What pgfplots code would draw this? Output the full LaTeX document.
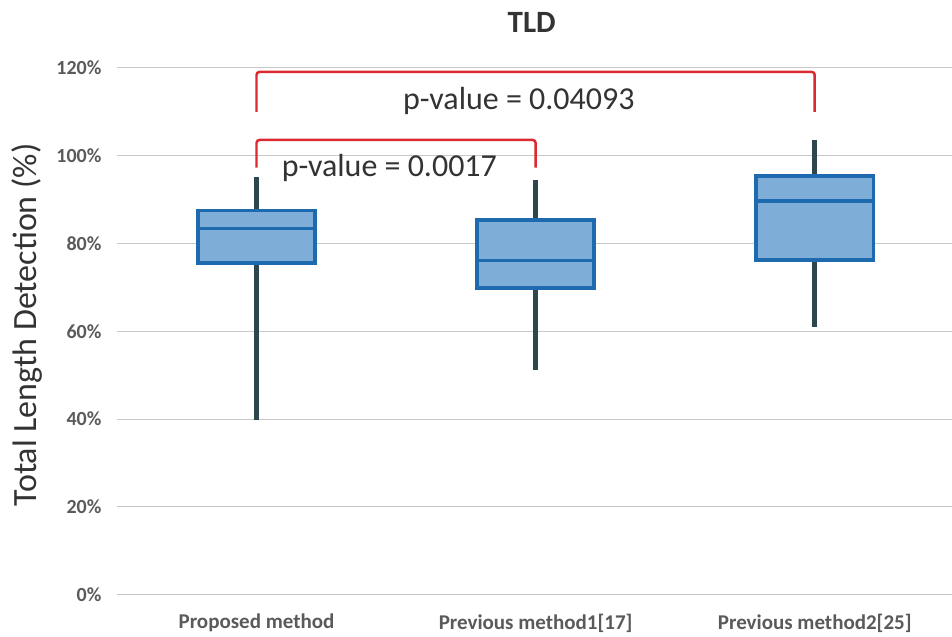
\documentclass[border=0pt]{standalone}
\usepackage{pgfplots}
\pgfplotsset{compat=1.18}
\usepgfplotslibrary{statistics}
\usepackage{fontspec}
\setmainfont{Carlito}
\definecolor{boxedge}{HTML}{1D6AAE}
\definecolor{boxfill}{HTML}{7EAED8}
\definecolor{whisk}{HTML}{2E474C}
\definecolor{brk}{HTML}{DC2A30}
\definecolor{tickgray}{HTML}{5A5A5A}
\definecolor{txt}{HTML}{333333}
\definecolor{gridc}{HTML}{C8C8C8}
\begin{document}
\begin{tikzpicture}[x=1pt,y=1pt]
\path (0,0) rectangle (952,637);
\begin{axis}[
  at={(117pt,42pt)}, anchor=south west,
  scale only axis, width=835pt, height=527pt,
  xmin=-0.5, xmax=2.49, ymin=0, ymax=120,
  axis line style={draw=none}, tick style={draw=none},
  ytick={0,20,...,120},
  yticklabel={\pgfmathprintnumber{\tick}\%},
  /pgf/number format/assume math mode=true,
  yticklabel style={font=\fontsize{20}{20}\selectfont\bfseries, text=tickgray, xshift=-12pt},
  xtick={0,1,2},
  xticklabels={Proposed method, Previous method1[17], Previous method2[25]},
  xticklabel style={font=\fontsize{21}{21}\selectfont\bfseries, text=tickgray, yshift=-16pt},
  ymajorgrids, grid style={gridc, line width=1pt},
  ylabel={Total Length Detection (\%)},
  every axis y label/.style={at={(axis description cs:-0.108,0.512)}, rotate=90, anchor=center},
  ylabel style={font=\fontsize{34}{34}\selectfont, text=txt},
  title={TLD},
  every axis title/.style={at={(axis description cs:0.497,1)}, anchor=center, yshift=46pt},
  title style={font=\fontsize{31}{31}\selectfont\bfseries, text=txt},
  boxplot/draw direction=y,
  boxplot/box extend=0.42,
  boxplot/whisker extend=0,
  boxplot/every box/.style={draw=boxedge, fill=boxfill, line width=3.5pt},
  boxplot/every median/.style={draw=boxedge, line width=3.5pt},
  boxplot/every whisker/.style={draw=whisk, line width=4.5pt},
]
% Box 1: proposed method
\addplot+[mark=none, boxplot prepared={draw position=0,
  lower whisker=39.9, lower quartile=75.6, median=83.4,
  upper quartile=87.5, upper whisker=95.2}] coordinates {};
% Box 2: previous method 1
\addplot+[mark=none, boxplot prepared={draw position=1,
  lower whisker=51.3, lower quartile=69.9, median=76.1,
  upper quartile=85.4, upper whisker=94.5}] coordinates {};
% Box 3: previous method 2
\addplot+[mark=none, boxplot prepared={draw position=2,
  lower whisker=61.0, lower quartile=76.3, median=89.7,
  upper quartile=95.4, upper whisker=103.6}] coordinates {};
% significance brackets
\addplot[brk, line width=2.5pt, rounded corners=3pt, mark=none]
  coordinates {(0,110) (0,119.1) (2,119.1) (2,110)};
\addplot[brk, line width=2.5pt, rounded corners=3pt, mark=none]
  coordinates {(0,97.3) (0,103.6) (1,103.6) (1,97.3)};
\node[font=\fontsize{32}{32}\selectfont, text=txt] at (axis cs:0.94,112.5) {p-value = 0.04093};
\node[font=\fontsize{32}{32}\selectfont, text=txt] at (axis cs:0.476,97.3) {p-value = 0.0017};
\end{axis}
\end{tikzpicture}
\end{document}
